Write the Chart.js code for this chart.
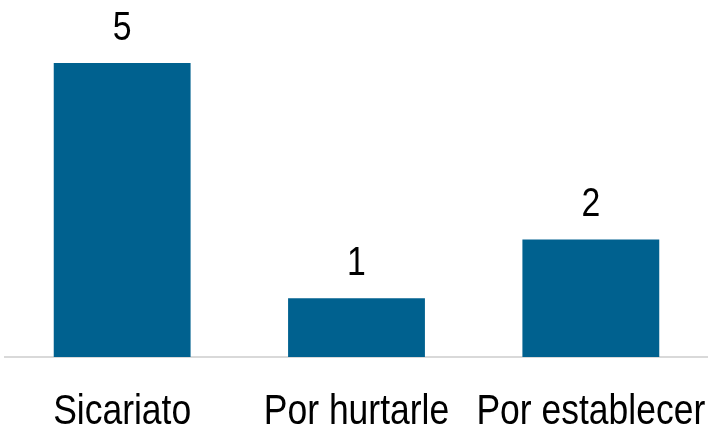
<!DOCTYPE html>
<html>
<head>
<meta charset="utf-8">
<script src="https://cdn.jsdelivr.net/npm/chart.js@4/dist/chart.umd.min.js"></script>
<style>
html,body{margin:0;padding:0;background:#fff;}
#wrap{width:708px;height:429px;position:relative;}
</style>
</head>
<body>
<div id="wrap"><canvas id="c" width="708" height="429"></canvas></div>
<script>
const categories = ["Sicariato", "Por hurtarle", "Por establecer"];
const values = [5, 1, 2];

const FONT = '"Liberation Sans Narrow", "Arial Narrow", "Liberation Sans", Arial, sans-serif';
const NARROW = 0.845;

function drawNarrow(ctx, text, x, y) {
  ctx.save();
  ctx.translate(x, y);
  ctx.scale(NARROW, 1);
  ctx.fillText(text, 0, 0);
  ctx.restore();
}

const textPlugin = {
  id: 'textPlugin',
  afterDraw(chart) {
    const ctx = chart.ctx;
    const meta = chart.getDatasetMeta(0);
    const xScale = chart.scales.x;
    ctx.save();
    ctx.fillStyle = '#000';
    ctx.textAlign = 'center';
    ctx.textBaseline = 'alphabetic';
    ctx.font = '40px ' + FONT;
    meta.data.forEach((bar, i) => {
      drawNarrow(ctx, String(values[i]), bar.x, bar.y - 23);
    });
    ctx.font = '42px ' + FONT;
    categories.forEach((c, i) => {
      drawNarrow(ctx, c, xScale.getPixelForValue(i), chart.chartArea.bottom + 67);
    });
    ctx.restore();
  }
};

new Chart(document.getElementById('c'), {
  type: 'bar',
  data: {
    labels: categories,
    datasets: [{
      data: values,
      backgroundColor: '#00618F',
      borderWidth: 0,
      categoryPercentage: 1,
      barPercentage: 0.584
    }]
  },
  options: {
    responsive: false,
    animation: false,
    layout: { padding: { top: 63, left: 5, right: 0, bottom: 72 } },
    plugins: { legend: { display: false }, tooltip: { enabled: false } },
    scales: {
      y: { display: false, min: 0, max: 5 },
      x: {
        grid: { display: false, drawTicks: false, tickLength: 0 },
        border: { display: true, color: '#D9D9D9', width: 2 },
        ticks: { display: false }
      }
    }
  },
  plugins: [textPlugin]
});
</script>
</body>
</html>
